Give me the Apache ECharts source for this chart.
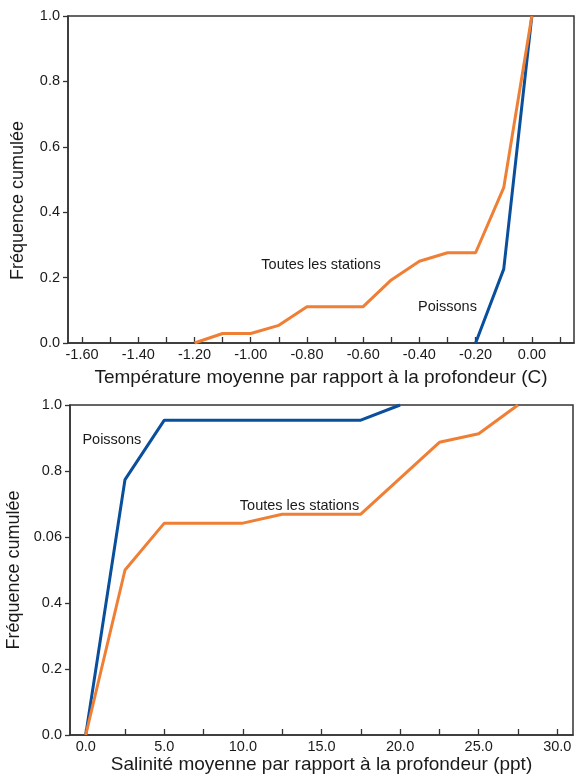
<!DOCTYPE html>
<html>
<head>
<meta charset="utf-8">
<script src="https://cdn.jsdelivr.net/npm/echarts@6/dist/echarts.min.js"></script>
<style>
  html, body { margin: 0; padding: 0; background: #fff; }
  #chart { width: 576px; height: 777px; }
</style>
</head>
<body>
<div id="chart"></div>
<script>
// Cumulative frequency by mean temperature relative to depth (°C)
const tempAll = [[-1.20, 0], [-1.10, 0.029], [-1.00, 0.029], [-0.90, 0.054], [-0.80, 0.111], [-0.70, 0.111],
                 [-0.60, 0.111], [-0.50, 0.193], [-0.40, 0.250], [-0.30, 0.276], [-0.20, 0.276], [-0.10, 0.475], [0.00, 1.0]];
const tempFish = [[-0.20, 0], [-0.10, 0.226], [0.00, 1.0]];
const tempTicks = [-1.6, -1.5, -1.4, -1.3, -1.2, -1.1, -1.0, -0.9, -0.8, -0.7, -0.6, -0.5, -0.4, -0.3, -0.2, -0.1, 0.0, 0.1];
const tempLabels = [-1.6, -1.4, -1.2, -1.0, -0.8, -0.6, -0.4, -0.2, 0.0];

// Cumulative frequency by mean salinity relative to depth (ppt)
const salAll = [[0, 0], [2.5, 0.5], [5.0, 0.642], [10.0, 0.642], [12.5, 0.669], [17.5, 0.669],
                [22.5, 0.887], [25.0, 0.913], [27.5, 1.0]];
const salFish = [[0, 0], [2.5, 0.774], [5.0, 0.954], [10.0, 0.954], [17.5, 0.954], [20.0, 1.0]];
const salTicks = [0, 2.5, 5, 7.5, 10, 12.5, 15, 17.5, 20, 22.5, 25, 27.5, 30];
const salLabels = [0, 5, 10, 15, 20, 25, 30];

const freqTicks = [0, 0.2, 0.4, 0.6, 0.8, 1.0];
const freqLabelsTop = ['0.0', '0.2', '0.4', '0.6', '0.8', '1.0'];
const freqLabelsBottom = ['0.0', '0.2', '0.4', '0.06', '0.8', '1.0'];

const FONT = 'Liberation Sans, Arial, Helvetica, sans-serif';
const INK = '#1a1a1a';
const FRAME = '#333';
const BLUE = '#0a4f9c';
const ORANGE = '#ef7f35';

function xAxisFor(gridIndex, min, max, ticks, labels, digits, name, gap) {
  return {
    type: 'value', gridIndex, min, max,
    name, nameLocation: 'middle', nameGap: gap,
    nameTextStyle: { fontFamily: FONT, fontSize: 19, color: INK },
    axisLine: { show: true, onZero: false, lineStyle: { color: FRAME, width: 1.5 } },
    axisTick: { show: true, inside: true, length: 6, customValues: ticks, lineStyle: { color: FRAME, width: 1.3 } },
    axisLabel: { customValues: labels, formatter: v => v.toFixed(digits),
                 fontFamily: FONT, fontSize: 14.5, color: INK, margin: 4 },
    splitLine: { show: false }
  };
}

function yAxisFor(gridIndex, labels, gap, namePad) {
  return {
    type: 'value', gridIndex, min: 0, max: 1,
    name: 'Fréquence cumulée', nameLocation: 'middle', nameGap: gap,
    nameTextStyle: { fontFamily: FONT, fontSize: 18, color: INK, padding: namePad },
    axisLine: { show: true, onZero: false, lineStyle: { color: FRAME, width: 1.5 } },
    axisTick: { show: true, inside: false, length: 5, customValues: freqTicks, lineStyle: { color: FRAME, width: 1.3 } },
    axisLabel: { customValues: freqTicks, formatter: v => labels[Math.round(v * 5)],
                 fontFamily: FONT, fontSize: 14.5, color: INK, margin: 8 },
    splitLine: { show: false }
  };
}

function curve(xi, data, color, tag) {
  const s = {
    type: 'line', xAxisIndex: xi, yAxisIndex: xi, data,
    symbol: 'none', lineStyle: { color, width: 3 }, z: color === ORANGE ? 3 : 2
  };
  if (tag) {
    s.markPoint = {
      symbol: 'circle', symbolSize: 0, silent: true,
      label: { show: true, position: 'inside', formatter: tag.text,
               fontFamily: FONT, fontSize: 14.5, color: INK },
      data: [{ coord: tag.at }]
    };
  }
  return s;
}

const chart = echarts.init(document.getElementById('chart'), null, { renderer: 'canvas' });
chart.setOption({
  animation: false,
  backgroundColor: '#fff',
  grid: [
    { left: 68, right: 2, top: 16, height: 327, show: true, borderColor: FRAME, borderWidth: 1.5, outerBoundsMode: 'none' },
    { left: 70, right: 3, top: 405, height: 330, show: true, borderColor: FRAME, borderWidth: 1.5, outerBoundsMode: 'none' }
  ],
  xAxis: [
    xAxisFor(0, -1.65, 0.15, tempTicks, tempLabels, 2, 'Température moyenne par rapport à la profondeur (C)', 25),
    xAxisFor(1, -1, 31, salTicks, salLabels, 1, 'Salinité moyenne par rapport à la profondeur (ppt)', 20)
  ],
  yAxis: [yAxisFor(0, freqLabelsTop, 41, [0, 42, 0, 0]), yAxisFor(1, freqLabelsBottom, 33, 0)],
  series: [
    curve(0, tempFish, BLUE, { text: 'Poissons', at: [-0.30, 0.11] }),
    curve(0, tempAll, ORANGE, { text: 'Toutes les stations', at: [-0.75, 0.24] }),
    curve(1, salFish, BLUE, { text: 'Poissons', at: [1.66, 0.894] }),
    curve(1, salAll, ORANGE, { text: 'Toutes les stations', at: [13.6, 0.695] })
  ]
});
</script>
</body>
</html>
